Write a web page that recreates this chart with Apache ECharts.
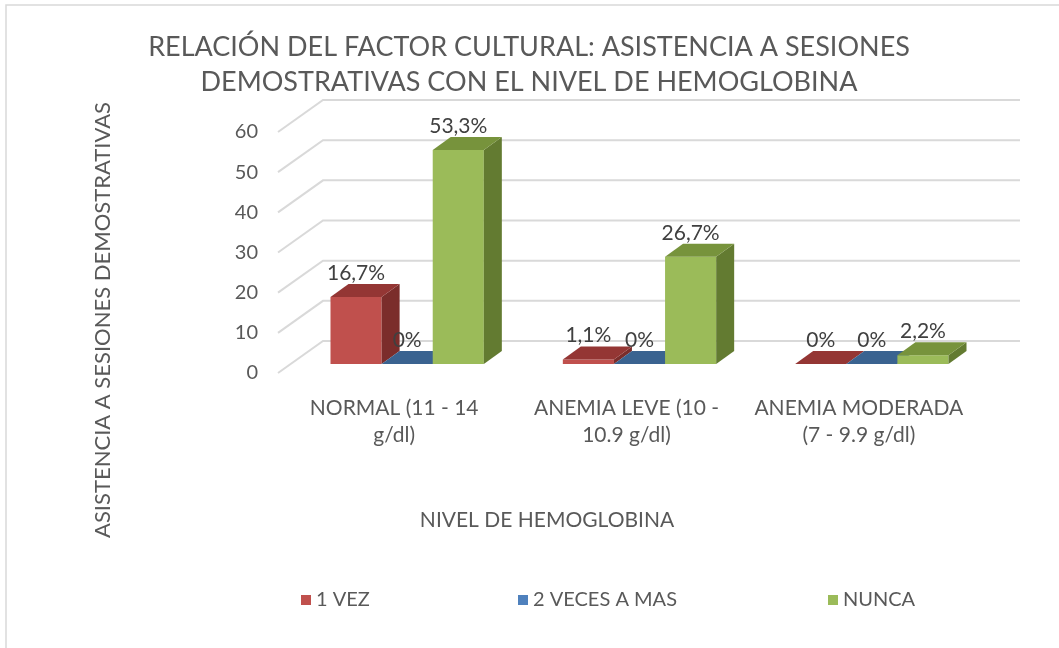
<!DOCTYPE html>
<html>
<head>
<meta charset="utf-8">
<script src="https://cdn.jsdelivr.net/npm/echarts@6/dist/echarts.min.js"></script>
<style>html,body{margin:0;padding:0;background:#fff}#c{width:1059px;height:648px}</style>
</head>
<body>
<div id="c"></div>
<script>
const categories = ['NORMAL (11 - 14\ng/dl)', 'ANEMIA LEVE (10 -\n10.9 g/dl)', 'ANEMIA MODERADA\n(7 - 9.9 g/dl)'];
const seriesNames = ['1 VEZ', '2 VECES A MAS', 'NUNCA'];
const vez1 = [16.7, 1.1, 0];
const veces2 = [0, 0, 0];
const nunca = [53.3, 26.7, 2.2];
const yTicks = [0, 10, 20, 30, 40, 50, 60];
const titleLines = ['RELACIÓN DEL FACTOR CULTURAL: ASISTENCIA A SESIONES', 'DEMOSTRATIVAS CON EL NIVEL DE HEMOGLOBINA'];
const yName = 'ASISTENCIA A SESIONES DEMOSTRATIVAS';
const xName = 'NIVEL DE HEMOGLOBINA';

const FONT = 'Lato, "Open Sans", sans-serif';
const TXT = '#595959';
const palettes = [
  {front: '#C0504D', top: '#943634', side: '#7B2D2B', legend: '#C0504D'},
  {front: '#4F81BD', top: '#3A6390', side: '#2F5079', legend: '#4F81BD'},
  {front: '#9BBB59', top: '#77933C', side: '#637B31', legend: '#9BBB59'}
];
const DX = 18, DY = 13;          // bar depth
const FX = -13, FY = 9;          // front plane offset
const BX = 32, BY = -23;         // back wall offset

function fmt(v) { return String(v).replace('.', ',') + '%'; }

function barRender(sIdx) {
  return function (params, api) {
    const i = api.value(0), v = api.value(1);
    const base = api.coord([i, 0]);
    const top = api.coord([i, v]);
    const band = api.size([1, 0])[0];
    const w = band * 0.22;
    const x = base[0] + (sIdx - 1) * w - w / 2;
    const y0 = base[1], yt = top[1];
    const p = palettes[sIdx];
    const children = [];
    if (y0 - yt > 0.3) {
      children.push({type: 'rect', shape: {x: x, y: yt, width: w, height: y0 - yt}, style: {fill: p.front}});
      children.push({type: 'polygon', shape: {points: [[x + w, yt], [x + w + DX, yt - DY], [x + w + DX, y0 - DY], [x + w, y0]]}, style: {fill: p.side}});
    }
    children.push({type: 'polygon', shape: {points: [[x, yt], [x + w, yt], [x + w + DX, yt - DY], [x + DX, yt - DY]]}, style: {fill: p.top}});
    children.push({type: 'text', style: {text: fmt(v), x: x + w / 2, y: yt - 24, align: 'center', verticalAlign: 'middle', fill: '#404040', font: '21px ' + FONT}, z2: 10});
    return {type: 'group', children: children};
  };
}

function gridRender(params, api) {
  const v = api.value(0);
  const cs = params.coordSys;
  const y = api.coord([0, v])[1];
  const x0 = cs.x, x1 = cs.x + cs.width;
  return {type: 'polyline', shape: {points: [[x0 + FX, y + FY], [x0 + BX, y + BY], [x1 + BX, y + BY]]}, style: {stroke: '#D9D9D9', lineWidth: 2, fill: null}};
}

const dataSets = [vez1, veces2, nunca];
const barSeries = dataSets.map((arr, s) => ({
  type: 'custom', name: seriesNames[s], xAxisIndex: 0, yAxisIndex: 0,
  renderItem: barRender(s), itemStyle: {color: palettes[s].legend},
  data: arr.map((v, i) => [i, v]), z: 3 + s
}));

const chart = echarts.init(document.getElementById('c'), null, {renderer: 'canvas'});
chart.setOption({
  animation: false,
  backgroundColor: '#fff',
  title: {
    text: titleLines.join('\n'), left: 524, top: 25, textAlign: 'center',
    textStyle: {fontFamily: FONT, fontWeight: 'normal', fontSize: 27, color: TXT, lineHeight: 35}
  },
  graphic: [
    {type: 'rect', shape: {x: 6, y: 5, width: 1200, height: 800}, style: {fill: null, stroke: '#D9D9D9', lineWidth: 1.5}, silent: true, z: -1},
    {type: 'text', x: 103, y: 320, rotation: Math.PI / 2, style: {text: yName, align: 'center', verticalAlign: 'middle', fill: TXT, font: '22px ' + FONT}},
    {type: 'text', x: 547, y: 520, style: {text: xName, align: 'center', verticalAlign: 'middle', fill: TXT, font: '21px ' + FONT}}
  ],
  legend: seriesNames.map((n, k) => ({
    data: [n], left: [296, 513, 823][k], top: 585, icon: 'rect', itemWidth: 10, itemHeight: 10, itemGap: 6,
    textStyle: {fontFamily: FONT, fontSize: 20, color: TXT}, selectedMode: false
  })),
  grid: [
    {left: 291, right: 71, top: 123, bottom: 284},
    {left: 278, right: 84, top: 132, bottom: 275}
  ],
  xAxis: [
    {type: 'category', gridIndex: 0, data: categories, show: false},
    {type: 'category', gridIndex: 1, data: categories, axisLine: {show: false}, axisTick: {show: false},
     axisLabel: {interval: 0, fontFamily: FONT, fontSize: 21, color: TXT, lineHeight: 27, margin: 22}}
  ],
  yAxis: [
    {type: 'value', gridIndex: 0, min: 0, max: 60, interval: 10, show: false},
    {type: 'value', gridIndex: 1, min: 0, max: 60, interval: 10, axisLine: {show: false}, axisTick: {show: false}, splitLine: {show: false},
     axisLabel: {fontFamily: FONT, fontSize: 20, color: TXT, margin: 20}}
  ],
  series: [
    {type: 'custom', name: 'grid', xAxisIndex: 0, yAxisIndex: 0, renderItem: gridRender, data: yTicks.map(v => [v]), z: 1, silent: true}
  ].concat(barSeries)
});
</script>
</body>
</html>
